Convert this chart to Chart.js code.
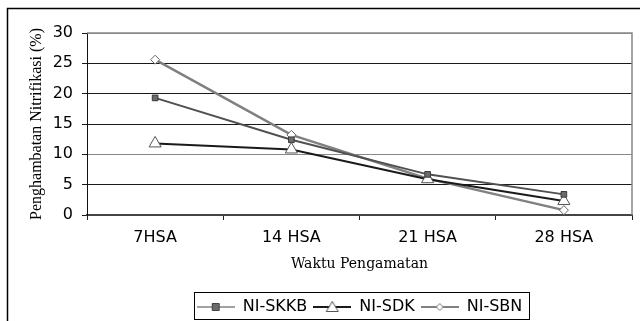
<!DOCTYPE html>
<html>
<head>
<meta charset="utf-8">
<script src="https://cdn.jsdelivr.net/npm/chart.js@4.4.1/dist/chart.umd.min.js"></script>
<style>
  html, body { margin: 0; padding: 0; background: #fff; }
  #wrap { width: 640px; height: 321px; }
</style>
</head>
<body>
<div id="wrap"><canvas id="nitrifChart" width="640" height="321"></canvas></div>
<script>
// data
const categories = ['7HSA', '14 HSA', '21 HSA', '28 HSA'];
const skkbValues = [19.3, 12.4, 6.7, 3.4];
const sdkValues = [11.8, 10.8, 5.9, 2.3];
const sbnValues = [25.6, 13.2, 6.0, 0.8];
const seriesNames = ['NI-SKKB', 'NI-SDK', 'NI-SBN'];
const yTicks = [0, 5, 10, 15, 20, 25, 30];

// small line+marker pictures for the legend
function legendIcon(lineColor, lineWidth, shape, fill, stroke) {
  const c = document.createElement('canvas');
  c.width = 38; c.height = 16;
  const g = c.getContext('2d');
  g.strokeStyle = lineColor;
  g.lineWidth = lineWidth;
  g.beginPath(); g.moveTo(0, 8); g.lineTo(38, 8); g.stroke();
  g.fillStyle = fill;
  g.strokeStyle = stroke;
  g.lineWidth = 1;
  g.beginPath();
  if (shape === 'rect') {
    g.rect(15.5, 4.5, 7, 7);
  } else if (shape === 'triangle') {
    g.moveTo(19, 2.5); g.lineTo(25, 12.5); g.lineTo(13, 12.5); g.closePath();
  } else {
    g.moveTo(19, 4.5); g.lineTo(22.5, 8); g.lineTo(19, 11.5); g.lineTo(15.5, 8); g.closePath();
  }
  g.fill(); g.stroke();
  return c;
}

const icons = [
  legendIcon('#444', 1, 'rect', '#6b6b6b', '#444'),
  legendIcon('#1a1a1a', 2, 'triangle', '#fff', '#555'),
  legendIcon('#808080', 2, 'diamond', '#fff', '#777')
];

const frames = {
  id: 'frames',
  beforeDraw(chart) {
    const ctx = chart.ctx;
    ctx.save();
    ctx.fillStyle = '#fff';
    ctx.fillRect(0, 0, chart.width, chart.height);
    ctx.strokeStyle = '#000';
    ctx.lineWidth = 1.5;
    ctx.strokeRect(7.5, 8.5, 700, 400);
    ctx.restore();
  },
  afterDraw(chart) {
    const ctx = chart.ctx;
    const a = chart.chartArea;
    ctx.save();
    ctx.strokeStyle = '#888';
    ctx.lineWidth = 1.5;
    ctx.beginPath();
    ctx.moveTo(a.left, a.top);
    ctx.lineTo(a.right, a.top);
    ctx.lineTo(a.right, a.bottom);
    ctx.stroke();
    // box round the legend
    const boxes = chart.legend.legendHitBoxes;
    if (boxes && boxes.length) {
      const l = Math.min(...boxes.map(b => b.left));
      const r = Math.max(...boxes.map(b => b.left + b.width));
      const t = boxes[0].top;
      ctx.strokeStyle = '#000';
      ctx.lineWidth = 1;
      ctx.strokeRect(Math.round(l - 3) + 0.5, Math.round(t - 7) + 0.5, Math.round(r - l + 9), 27);
    }
    ctx.restore();
  }
};

Chart.defaults.font.family = 'DejaVu Sans';
Chart.defaults.font.size = 16;
Chart.defaults.color = '#000';

new Chart(document.getElementById('nitrifChart').getContext('2d'), {
  type: 'line',
  data: {
    labels: categories,
    datasets: [{
      label: seriesNames[0],
      data: skkbValues,
      borderColor: '#505050',
      borderWidth: 2,
      pointStyle: 'rect',
      pointRadius: 4,
      pointBackgroundColor: '#6b6b6b',
      pointBorderColor: '#3a3a3a',
      pointBorderWidth: 1
    }, {
      label: seriesNames[1],
      data: sdkValues,
      borderColor: '#1a1a1a',
      borderWidth: 2,
      pointStyle: 'triangle',
      pointRadius: 7,
      pointBackgroundColor: '#fff',
      pointBorderColor: '#555',
      pointBorderWidth: 1
    }, {
      label: seriesNames[2],
      data: sbnValues,
      borderColor: '#808080',
      borderWidth: 2.5,
      pointStyle: 'rectRot',
      pointRadius: 4.5,
      pointBackgroundColor: '#fff',
      pointBorderColor: '#666',
      pointBorderWidth: 1
    }]
  },
  options: {
    responsive: false,
    animation: false,
    layout: { padding: { left: 20, top: 33, right: 7, bottom: -4 } },
    elements: { line: { tension: 0 } },
    plugins: {
      tooltip: { enabled: false },
      legend: {
        position: 'bottom',
        fullSize: false,
        labels: {
          usePointStyle: true,
          pointStyleWidth: 38,
          padding: 6,
          font: { size: 16 },
          generateLabels: (chart) => chart.data.datasets.map((ds, i) => ({
            text: ds.label,
            pointStyle: icons[i],
            fillStyle: 'transparent',
            strokeStyle: 'transparent',
            lineWidth: 0,
            hidden: false,
            datasetIndex: i
          }))
        }
      }
    },
    scales: {
      x: {
        offset: true,
        grid: { offset: true, drawOnChartArea: false, tickLength: 5, color: '#222' },
        border: { color: '#444', width: 2 },
        ticks: { padding: 8, font: { size: 16 } },
        title: {
          display: true,
          text: 'Waktu Pengamatan',
          font: { family: 'DejaVu Serif', size: 14 },
          padding: { top: 0, bottom: 20 }
        },
        afterFit: (scale) => { scale.height = 78; }
      },
      y: {
        min: 0,
        max: 30,
        afterBuildTicks: (scale) => { scale.ticks = yTicks.map(v => ({ value: v })); },
        grid: {
          tickLength: 5,
          color: (c) => (c.tick && (c.tick.value === 10 || c.tick.value === 30)) ? '#888' : '#1a1a1a',
          tickColor: '#1a1a1a'
        },
        border: { color: '#111', width: 1 },
        ticks: { padding: 9, font: { size: 16 } },
        title: {
          display: true,
          text: 'Penghambatan Nitrifikasi (%)',
          font: { family: 'Liberation Serif', size: 16 },
          padding: { top: 7, bottom: 0 }
        },
        afterFit: (scale) => { scale.width = 67; }
      }
    }
  },
  plugins: [frames]
});
</script>
</body>
</html>
